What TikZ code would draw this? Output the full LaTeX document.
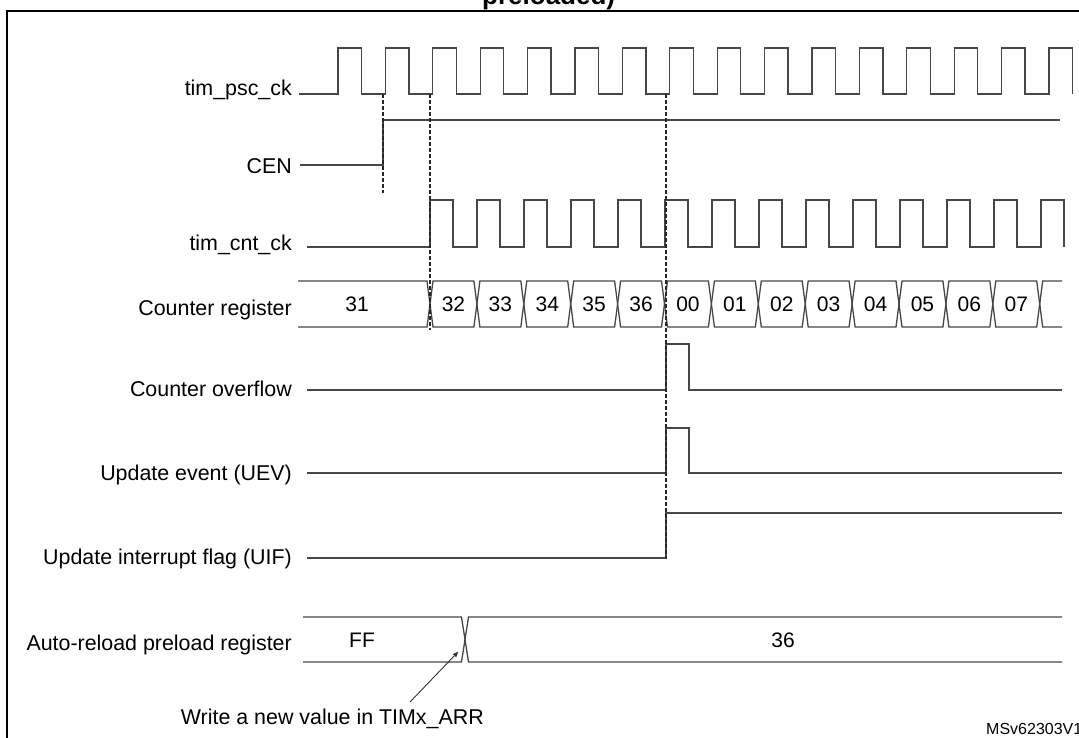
\documentclass[tikz,border=0pt]{standalone}
\usepackage{fontspec}
\setmainfont{Liberation Sans}
\usetikzlibrary{arrows}

\begin{document}
\begin{tikzpicture}[x=1pt,y=-1pt,>=stealth',
                sig/.style={draw=black!72,line width=1.3pt},
                sync/.style={draw=black!85,line width=1.2pt,dash pattern=on 3.5pt off 2.5pt},
                sig label/.style={anchor=base east,inner sep=0pt,font=\fontsize{21.4}{24}\selectfont},
                bus value/.style={anchor=base,inner sep=0pt,font=\fontsize{21}{24}\selectfont}]

  \useasboundingbox (0,0) rectangle (1079,737);
  \draw[line width=2pt] (7,760) -- (7,10.5) -- (1100,10.5);
  \node[anchor=base west,inner sep=0pt,font=\fontsize{26}{28}\selectfont\bfseries] (title) at (482,4) {preloaded)};

  % signal names
  \node[sig label] (psc) at (292,95) {tim\_psc\_ck};
  \node[sig label] (cen) at (292,173) {CEN};
  \node[sig label] (cntck) at (292,250) {tim\_cnt\_ck};
  \node[sig label] (cntreg) at (292,315) {Counter register};
  \node[sig label] (ovf) at (292,396) {Counter overflow};
  \node[sig label] (uev) at (292,480) {Update event (UEV)};
  \node[sig label] (uif) at (292,564) {Update interrupt flag (UIF)};
  \node[sig label] (arr) at (292,650) {Auto-reload preload register};

  % clocks
  \draw[sig] (299,94) \foreach \k in {0,...,15}{
      -- ({338+47.4*\k},94) -- ({338+47.4*\k},48) -- ({361.5+47.4*\k},48) -- ({361.5+47.4*\k},94)};
  \draw[sig] (300,165) -- (383,165) -- (383,120) -- (1060,120);
  \draw[sig] (307,247) \foreach \k in {0,...,13}{
      -- ({430+47*\k},247) -- ({430+47*\k},200) -- ({453+47*\k},200) -- ({453+47*\k},247)};

  % counter register
  \draw[sig] (298,281) -- (427,281) -- (430,304) -- (427,327) -- (298,327);
  \node[bus value] (cnt31) at (357,311.5) {31};
  \foreach \v [count=\k from 0] in {32,33,34,35,36,00,01,02,03,04,05,06,07}{
    \pgfmathsetmacro\xa{430+46.9*\k}
    \pgfmathsetmacro\xb{\xa+46.9}
    \draw[sig] (\xa,304) -- (\xa+3,281) -- (\xb-3,281) -- (\xb,304) -- (\xb-3,327) -- (\xa+3,327) -- cycle;
    \node[bus value] (cnt\v) at ({(\xa+\xb)/2},311.5) {\v};
  }
  \draw[sig] (1062,281) -- (1042.7,281) -- (1039.7,304) -- (1042.7,327) -- (1062,327);

  % flags
  \draw[sig] (307,390) -- (666,390) -- (666,344) -- (689,344) -- (689,390) -- (1062,390);
  \draw[sig] (307,473) -- (666,473) -- (666,428) -- (689,428) -- (689,473) -- (1062,473);
  \draw[sig] (307,558) -- (666,558) -- (666,513) -- (1062,513);

  % auto-reload register
  \draw[sig] (303,617) -- (461.5,617) -- (465,639.5) -- (461.5,662) -- (303,662);
  \draw[sig] (1062,617) -- (468.5,617) -- (465,639.5) -- (468.5,662) -- (1062,662);
  \node[bus value] (arrff) at (362,647) {FF};
  \node[bus value] (arr36) at (783,647) {36};

  % sync lines
  \draw[sync] (383,94) -- (383,193);
  \draw[sync] (430,94) -- (430,330);
  \draw[sync] (666,94) -- (666,558);

  % note
  \node[sig label] (note) at (484,724) {Write a new value in TIMx\_ARR};
  \coordinate (note tail) at (410,702);
  \coordinate (write) at (458,652);
  \path (note tail) edge[->,draw=black!80,line width=0.9pt] (write);

  \node[anchor=base west,inner sep=0pt,font=\fontsize{16}{18}\selectfont] (ref) at (986,734) {MSv62303V1};
\end{tikzpicture}
\end{document}
